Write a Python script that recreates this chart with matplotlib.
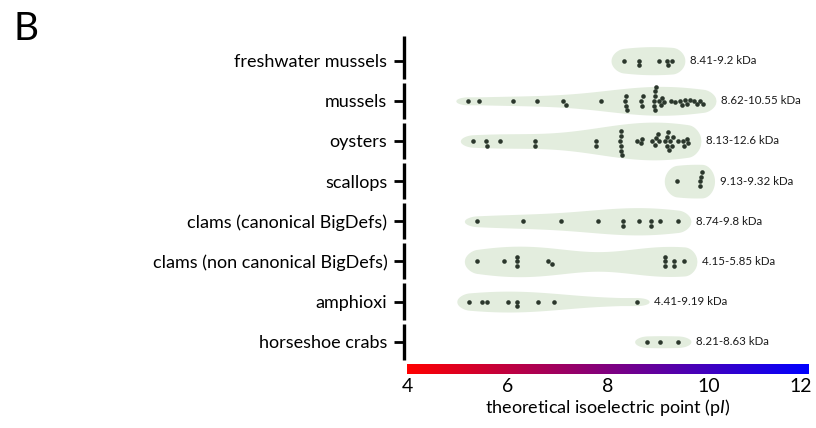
import numpy as np
import pandas as pd
import matplotlib
matplotlib.use("Agg")
import matplotlib.pyplot as plt
import matplotlib.transforms as mtransforms
from matplotlib.colors import LinearSegmentedColormap
import seaborn as sns

# rows, top to bottom
groups = ["freshwater mussels", "mussels", "oysters", "scallops",
          "clams (canonical BigDefs)", "clams (non canonical BigDefs)",
          "amphioxi", "horseshoe crabs"]
kda = ["8.41-9.2 kDa", "8.62-10.55 kDa", "8.13-12.6 kDa", "9.13-9.32 kDa",
       "8.74-9.8 kDa", "4.15-5.85 kDa", "4.41-9.19 kDa", "8.21-8.63 kDa"]

# theoretical pI of each sequence
freshwater_mussels = [8.31, 8.62, 8.62, 9.02, 9.18, 9.19, 9.28]
mussels = [5.22, 5.44, 6.11, 6.59, 7.11, 7.16, 7.87,
           8.33, 8.35, 8.36, 8.38, 8.66, 8.68, 8.69,
           8.91, 8.92, 8.93, 8.93, 8.94, 8.95,
           9.01, 9.05, 9.08, 9.12, 9.25, 9.34,
           9.44, 9.48, 9.53, 9.58, 9.63,
           9.72, 9.78, 9.84, 9.90]
oysters = [5.31, 5.57, 5.59, 5.86, 6.54, 6.54, 7.77, 7.77,
           8.24, 8.25, 8.25, 8.26, 8.26, 8.27, 8.58, 8.66, 8.67,
           8.88, 8.94, 8.95, 9.00, 9.02,
           9.14, 9.17, 9.18, 9.20, 9.22, 9.24, 9.27, 9.30,
           9.40, 9.50, 9.52, 9.58, 9.60]
scallops = [9.37, 9.83, 9.84, 9.86, 9.87]
clams_canonical = [5.39, 6.30, 7.06, 7.81, 8.29, 8.29, 8.62, 8.86, 8.86, 9.04, 9.40]
clams_noncanonical = [5.39, 5.94, 6.18, 6.18, 6.18, 6.81, 6.89,
                      9.13, 9.13, 9.13, 9.32, 9.32, 9.52]
amphioxi = [5.24, 5.49, 5.60, 6.00, 6.19, 6.19, 6.61, 6.93, 8.57]
horseshoe_crabs = [8.78, 9.04, 9.40]

series = [freshwater_mussels, mussels, oysters, scallops,
          clams_canonical, clams_noncanonical, amphioxi, horseshoe_crabs]

# blob half heights (in rows) - styling only
blob_half = [0.35, 0.36, 0.47, 0.42, 0.34, 0.38, 0.26, 0.15]
blob_col = "#e3edde"
dot_col = "#2b372c"
cap = 0.25

plt.rcParams["font.family"] = ["Lato", "DejaVu Sans"]
plt.rcParams["mathtext.fontset"] = "custom"
plt.rcParams["mathtext.rm"] = "Lato"
plt.rcParams["mathtext.it"] = "Lato:italic"

df = pd.DataFrame({
    "pI": [v for s in series for v in s],
    "group": [g for g, s in zip(groups, series) for v in s],
})

fig = plt.figure(figsize=(8.16, 4.28), dpi=100)
ax = fig.add_axes([0.4951, 0.1547, 0.4963, 0.7645])

# soft blobs behind the dots
for i, vals in enumerate(series):
    vals = np.array(vals)
    lo, hi = vals.min(), vals.max()
    xs = np.linspace(lo - cap, hi + cap, 500)
    dens = np.exp(-0.5 * ((xs[:, None] - vals[None, :]) / 0.85) ** 2).sum(axis=1)
    g = (dens / dens.max()) ** 0.65
    d = np.maximum(0, np.maximum(lo - xs, xs - hi))
    end = np.sqrt(np.clip(1 - (d / cap) ** 2, 0, 1))
    w = np.maximum(blob_half[i] * g, 0.1) * end
    ax.fill_between(xs, i - w, i + w, color=blob_col, lw=0, zorder=1)
    ax.text(hi + cap + 0.1, i, kda[i], fontsize=8.3, va="center", ha="left",
            color="#1a1a1a")

sns.swarmplot(data=df, x="pI", y="group", order=groups, orient="h",
              size=3.3, color=dot_col, linewidth=0, ax=ax, zorder=3)

ax.set_xlim(3.94, 12)
ax.set_ylim(7.5, -0.65)
ax.set_xticks([])
ax.set_yticks(range(len(groups)))
ax.set_yticklabels(groups)
ax.set_xlabel("")
ax.set_ylabel("")
for s in ax.spines.values():
    s.set_visible(False)
ax.tick_params(axis="y", length=7, width=2, pad=5, labelsize=13)
# broken y spine, one piece per row
for i in range(len(groups)):
    top = -0.62 if i == 0 else i - 0.45
    ax.vlines(0, top, i + 0.45, transform=ax.get_yaxis_transform(),
              color="black", lw=2.4, clip_on=False)

# red -> blue pI colour bar used as the x axis
cmap = LinearSegmentedColormap.from_list("pi", ["#ff0000", "#0000ff"])
cax = fig.add_axes([0.4988, 0.1262, 0.4926, 0.0234])
cax.imshow(np.linspace(4, 12, 256)[None, :], aspect="auto", cmap=cmap,
           extent=[4, 12, 0, 1])
cax.set_xlim(4, 12)
cax.set_yticks([])
cax.set_xticks([4, 6, 8, 10, 12])
cax.tick_params(axis="x", length=0, labelsize=14, pad=3)
for s in cax.spines.values():
    s.set_visible(False)
# last label would run off the right edge
last = cax.get_xticklabels()[-1]
last.set_transform(last.get_transform() +
                   mtransforms.ScaledTranslation(-6 / 72, 0, fig.dpi_scale_trans))
cax.set_xlabel(r"theoretical isoelectric point (p$\mathit{I}$)", fontsize=13,
               labelpad=1)

fig.text(0.016, 0.975, "B", fontsize=28, va="top", ha="left")

fig.savefig("out.png", dpi=100)
